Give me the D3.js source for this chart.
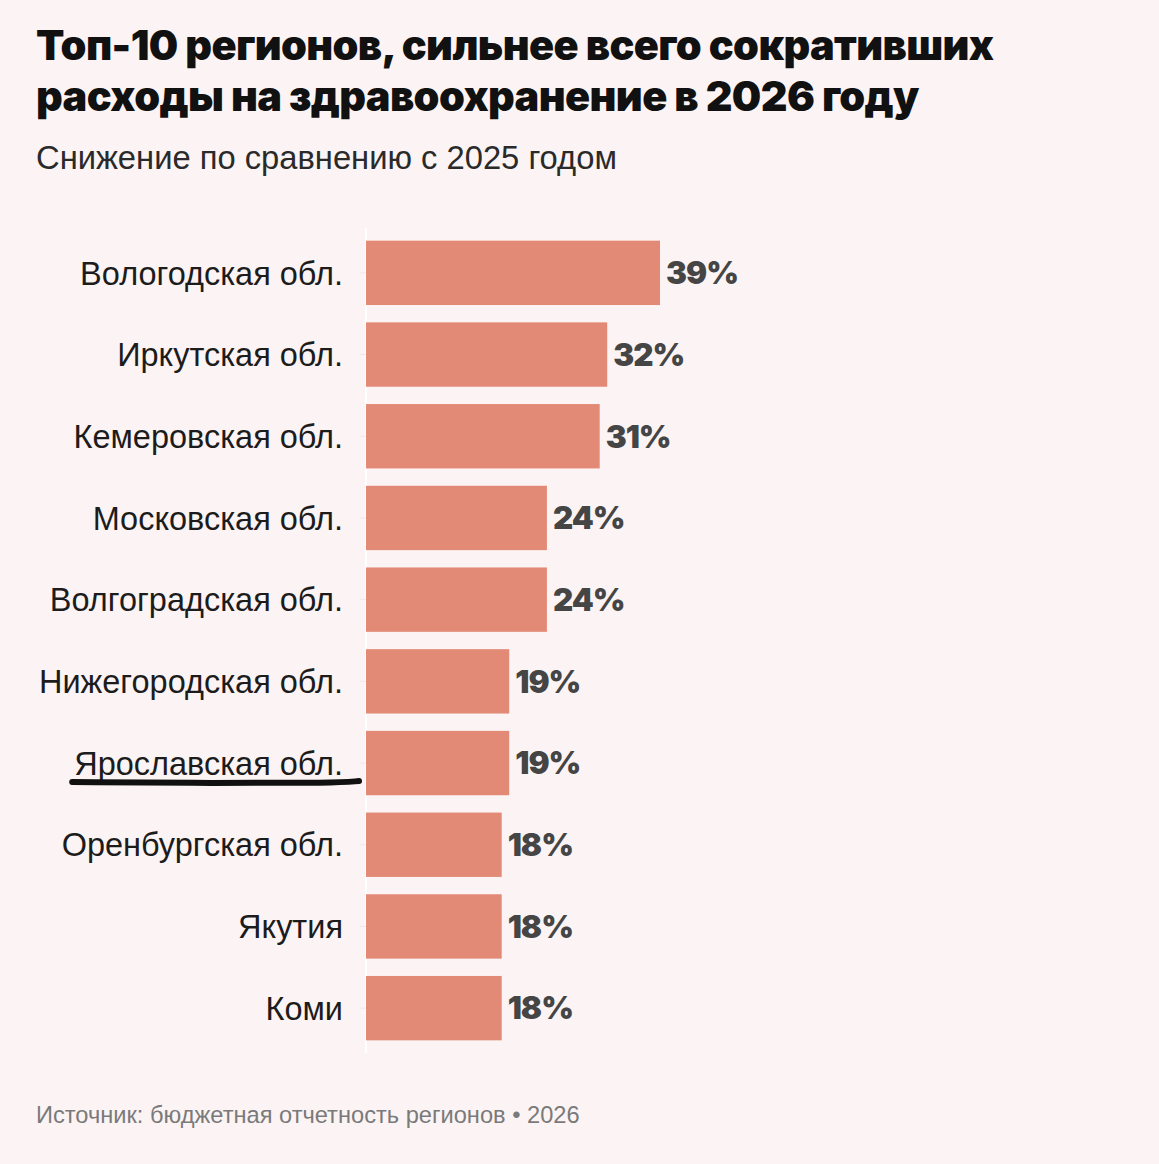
<!DOCTYPE html>
<html><head><meta charset="utf-8">
<script src="https://cdn.jsdelivr.net/npm/d3@7"></script>
<style>
html,body{margin:0;padding:0;background:#fcf4f4;}
svg{display:block;}
</style></head>
<body>
<svg id="chart" width="1159" height="1164"></svg>
<script>
const regions = ["Вологодская обл.","Иркутская обл.","Кемеровская обл.","Московская обл.","Волгоградская обл.","Нижегородская обл.","Ярославская обл.","Оренбургская обл.","Якутия","Коми"];
const reductions = [39,32,31,24,24,19,19,18,18,18];
const highlighted = ["Ярославская обл."];
const titleLines = ["Топ-10 регионов, сильнее всего сокративших","расходы на здравоохранение в 2026 году"];
const subtitle = "Снижение по сравнению с 2025 годом";
const source = "Источник: бюджетная отчетность регионов • 2026";

const svg = d3.select("#chart");
svg.append("rect").attr("width",1159).attr("height",1164).attr("fill","#fcf4f4");

function fitText(sel, target){
  const w = sel.node().getComputedTextLength();
  const fs = parseFloat(sel.attr("font-size"));
  sel.attr("font-size", fs*target/w);
}

// Title
const t1 = svg.append("text").attr("x",36).attr("y",60).attr("font-family","Inter, 'Liberation Sans', sans-serif")
  .attr("font-weight",900).attr("font-size",36).attr("fill","#111").attr("letter-spacing","-0.6").text(titleLines[0]);
fitText(t1, 954);
const t2 = svg.append("text").attr("x",36).attr("y",111).attr("font-family","Inter, 'Liberation Sans', sans-serif")
  .attr("font-weight",900).attr("font-size",t1.attr("font-size")).attr("fill","#111").attr("letter-spacing","-0.6").text(titleLines[1]);

const st = svg.append("text").attr("x",36).attr("y",169).attr("font-family","'Liberation Sans', Arial, sans-serif")
  .attr("font-size",30).attr("fill","#2a2a2a").text(subtitle);
fitText(st, 581);

// Scales
const x = d3.scaleLinear().domain([0,39]).range([366,660]);
const y = d3.scaleBand().domain(regions).range([232,1049]).paddingInner(0.212).paddingOuter(0.106);

// axis
const axis = d3.axisLeft(y).tickSize(6).tickPadding(17);
const ag = svg.append("g").attr("transform",`translate(${x(0)},0)`).call(axis);
ag.select(".domain").attr("stroke","#ffffff").attr("stroke-width",2).attr("d",`M0,${y.range()[0]-4}V${y.range()[1]+4}`);
ag.selectAll(".tick line").attr("stroke","#f4e6e6");
ag.selectAll(".tick text").attr("font-family","'Liberation Sans', Arial, sans-serif").attr("font-size",30).attr("fill","#1c1c1c");
const firstLbl = ag.select(".tick text");
const lw = firstLbl.node().getComputedTextLength();
const lfs = 30*263/lw;
ag.selectAll(".tick text").attr("font-size",lfs).attr("dy","0.36em");

// bars
svg.append("g").selectAll("rect").data(regions).join("rect")
  .attr("x",x(0)).attr("y",d=>y(d)).attr("height",y.bandwidth())
  .attr("width",(d,i)=>x(reductions[i])-x(0)).attr("fill","#e38a77");

// value labels
const vg = svg.append("g");
const vl = vg.selectAll("text").data(regions).join("text")
  .attr("x",(d,i)=>x(reductions[i])+6).attr("y",d=>y(d)+y.bandwidth()/2).attr("dy","0.36em")
  .attr("font-family","Inter, 'Liberation Sans', sans-serif").attr("font-weight",900).attr("font-size",32)
  .attr("fill","#454545").attr("letter-spacing","-1").text((d,i)=>reductions[i]+"%");
const vw = vl.node().getComputedTextLength();
vl.attr("font-size",32*72/vw);

// underline annotation for highlighted region
ag.selectAll(".tick").filter(d=>highlighted.includes(d)).each(function(d){
  const bb = d3.select(this).select("text").node().getBBox();
  const ty = y(d)+y.bandwidth()/2;
  const x0 = x(0)+bb.x-2, x1 = x(0)-7;
  const yy = ty + 19;
  const pts = [[x0,yy],[x0+(x1-x0)*0.5,yy+1],[x1-24,yy+1],[x1,yy-1]];
  svg.append("path").attr("d",d3.line().curve(d3.curveBasis)(pts))
    .attr("fill","none").attr("stroke","#111").attr("stroke-width",6).attr("stroke-linecap","round");
});

// source
const src = svg.append("text").attr("x",36).attr("y",1123).attr("font-family","'Liberation Sans', Arial, sans-serif")
  .attr("font-size",22).attr("fill","#7a7a7a").text(source);
fitText(src, 544);
</script>
</body></html>
